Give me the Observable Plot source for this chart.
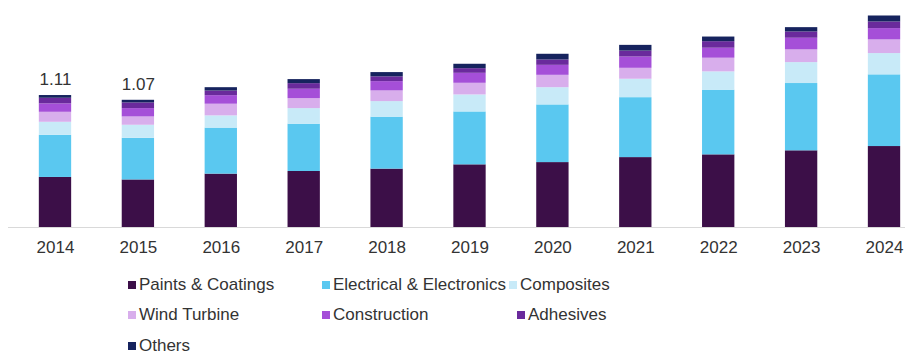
<!DOCTYPE html>
<html>
<head>
<meta charset="utf-8">
<script src="https://cdn.jsdelivr.net/npm/d3@7"></script>
<script src="https://cdn.jsdelivr.net/npm/@observablehq/plot@0.6"></script>
<style>
  html, body { margin: 0; padding: 0; background: #fff; overflow: hidden; }
  #wrap { position: relative; width: 917px; height: 354px; font-family: "Liberation Sans", Arial, sans-serif; color: #333; }
  .leg { position: absolute; font-size: 17px; line-height: 18px; white-space: nowrap; }
  .sw { position: absolute; width: 8px; height: 8px; top: 5px; left: 0; }
  .lt { position: absolute; left: 11px; top: 0; }
</style>
</head>
<body>
<div id="wrap"></div>
<script>
const years = ["2014","2015","2016","2017","2018","2019","2020","2021","2022","2023","2024"];
const seriesNames = ["Paints & Coatings","Electrical & Electronics","Composites","Wind Turbine","Construction","Adhesives","Others"];
const seriesColors = ["#3c0f48","#5ac8f0","#c8eaf8","#d8aeec","#a54fd8","#6a2a9c","#16235e"];

const paints       = [0.421,0.400,0.449,0.471,0.491,0.527,0.546,0.588,0.611,0.645,0.681];
const electrical   = [0.354,0.350,0.387,0.398,0.437,0.445,0.485,0.504,0.544,0.566,0.603];
const composites   = [0.110,0.110,0.103,0.131,0.131,0.143,0.145,0.155,0.154,0.176,0.179];
const windTurbine  = [0.084,0.070,0.098,0.084,0.090,0.098,0.104,0.092,0.115,0.107,0.115];
const construction = [0.071,0.070,0.072,0.079,0.078,0.084,0.084,0.095,0.084,0.098,0.095];
const adhesives    = [0.047,0.048,0.039,0.047,0.040,0.039,0.045,0.050,0.055,0.053,0.056];
const others       = [0.023,0.022,0.028,0.034,0.036,0.037,0.048,0.048,0.039,0.036,0.050];

const labelYears  = ["2014","2015"];
const labelTexts  = ["1.11","1.07"];

const seriesValues = [paints, electrical, composites, windTurbine, construction, adhesives, others];
const rows = [];
seriesNames.forEach((name, si) => {
  years.forEach((yr, i) => rows.push({year: yr, series: name, value: seriesValues[si][i]}));
});
const totals = years.map((yr, i) => seriesValues.reduce((s, arr) => s + arr[i], 0));
const labels = labelYears.map((yr, k) => ({year: yr, total: totals[years.indexOf(yr)], text: labelTexts[k]}));

const chart = Plot.plot({
  width: 917,
  height: 262,
  marginTop: 13,
  marginBottom: 35,
  marginLeft: 8,
  marginRight: 12,
  style: {fontFamily: "'Liberation Sans', Arial, sans-serif", fontSize: "17px", color: "#333", background: "#fff"},
  x: {domain: years, range: [21, 918], paddingInner: 0.61, paddingOuter: 0.215, round: false, label: null},
  y: {domain: [0, 1.8], axis: null},
  color: {domain: seriesNames, range: seriesColors},
  marks: [
    Plot.barY(rows, {x: "year", y: "value", fill: "series", order: seriesNames, inset: 0}),
    Plot.ruleY([0], {stroke: "#d9d9d9", strokeWidth: 1.2}),
    Plot.axisX({tickSize: 0, tickPadding: 13, fontSize: 17, fill: "#333", label: null}),
    Plot.text(labels, {x: "year", y: "total", text: "text", dy: -16, lineAnchor: "middle", fontSize: 17, fill: "#333"})
  ]
});
const wrap = document.getElementById("wrap");
wrap.appendChild(chart);

// Legend (HTML, below the SVG)
const legPos = [
  [128, 285], [322, 285], [509, 285],
  [128, 315], [322, 315], [517, 315],
  [128, 346]
];
seriesNames.forEach((name, i) => {
  const d = document.createElement("div");
  d.className = "leg";
  d.style.left = legPos[i][0] + "px";
  d.style.top = (legPos[i][1] - 9) + "px";
  const sw = document.createElement("span");
  sw.className = "sw";
  sw.style.background = seriesColors[i];
  const t = document.createElement("span");
  t.className = "lt";
  t.textContent = name;
  d.appendChild(sw);
  d.appendChild(t);
  wrap.appendChild(d);
});
</script>
</body>
</html>
